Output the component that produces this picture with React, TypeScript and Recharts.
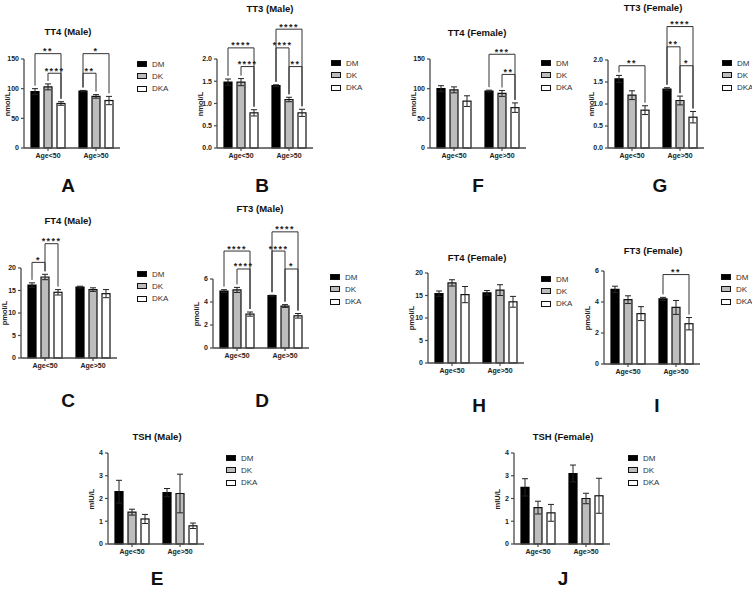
import React from "react";
import { BarChart, Bar, XAxis, YAxis, ErrorBar } from "recharts";

const FONT = '"Liberation Sans", Arial, sans-serif';
const GROUPS = ["Age<50", "Age>50"];
const SERIES = ["DM", "DK", "DKA"];
const FILLS = ["#000000", "#bdbdbd", "#ffffff"];

// means / SEM per age group, order DM, DK, DKA
const tt4MaleMean = [[95, 103, 75], [96, 87, 80]];
const tt4MaleSem = [[5, 5, 3], [1, 3, 7]];
const tt3MaleMean = [[1.48, 1.48, 0.79], [1.4, 1.09, 0.79]];
const tt3MaleSem = [[0.07, 0.08, 0.07], [0.02, 0.05, 0.08]];
const tt4FemaleMean = [[100, 98, 79], [96, 92, 68]];
const tt4FemaleSem = [[5, 5, 9], [1.5, 5, 8]];
const tt3FemaleMean = [[1.57, 1.2, 0.86], [1.34, 1.08, 0.7]];
const tt3FemaleSem = [[0.08, 0.1, 0.1], [0.03, 0.1, 0.13]];
const ft4MaleMean = [[16.2, 18.0, 14.6], [15.75, 15.2, 14.3]];
const ft4MaleSem = [[0.5, 0.6, 0.6], [0.2, 0.4, 0.9]];
const ft3MaleMean = [[4.95, 5.05, 2.95], [4.55, 3.65, 2.8]];
const ft3MaleSem = [[0.12, 0.22, 0.18], [0.04, 0.12, 0.2]];
const ft4FemaleMean = [[15.4, 17.8, 15.2], [15.6, 16.2, 13.6]];
const ft4FemaleSem = [[0.6, 0.7, 1.8], [0.5, 1.2, 1.2]];
const ft3FemaleMean = [[4.82, 4.15, 3.25], [4.2, 3.65, 2.6]];
const ft3FemaleSem = [[0.2, 0.25, 0.45], [0.1, 0.45, 0.4]];
const tshMaleMean = [[2.3, 1.4, 1.1], [2.26, 2.22, 0.8]];
const tshMaleSem = [[0.5, 0.13, 0.2], [0.18, 0.85, 0.12]];
const tshFemaleMean = [[2.49, 1.6, 1.37], [3.1, 2.0, 2.12]];
const tshFemaleSem = [[0.38, 0.28, 0.37], [0.37, 0.23, 0.77]];

// significance brackets: [group, from, to, level, stars]
const tt4MaleSig = [[0, 0, 2, 159, "**"], [0, 1, 2, 126, "****"], [1, 0, 2, 159, "*"], [1, 0, 1, 126, "**"]];
const tt3MaleSig = [[0, 0, 2, 2.25, "****"], [0, 1, 2, 1.83, "****"], [1, 0, 2, 2.67, "****"], [1, 0, 1, 2.25, "****"], [1, 1, 2, 1.83, "**"]];
const tt4FemaleSig = [[1, 0, 2, 158, "***"], [1, 1, 2, 124, "**"]];
const tt3FemaleSig = [[0, 0, 2, 1.87, "**"], [1, 0, 2, 2.76, "****"], [1, 0, 1, 2.3, "**"], [1, 1, 2, 1.87, "*"]];
const ft4MaleSig = [[0, 0, 1, 21.25, "*"], [0, 1, 2, 25.4, "****"]];
const ft3MaleSig = [[0, 0, 2, 8.43, "****"], [0, 1, 2, 6.87, "****"], [1, 0, 2, 10.1, "****"], [1, 0, 1, 8.43, "****"], [1, 1, 2, 6.87, "*"]];
const ft3FemaleSig = [[1, 0, 2, 5.77, "**"]];

const tickT4 = [0, 50, 100, 150];
const tickT3 = [0, 0.5, 1, 1.5, 2];
const tickFT4 = [0, 5, 10, 15, 20];
const tickFT3 = [0, 2, 4, 6];
const tickTSH = [0, 1, 2, 3, 4];

const BAR = 8;
const GAP = 5;
const PLOT_W = 96;
const AXIS = "#4a4a4a";

const PANELS: any[] = [
  { letter: "A", title: "TT4 (Male)", unit: "nmol/L", mean: tt4MaleMean, sem: tt4MaleSem, sig: tt4MaleSig, ticks: tickT4,
    left: 24, top: 59, h: 89, tx: 68, ty: 32, lx: 137, ly: 64, ax: 68, ay: 185 },
  { letter: "B", title: "TT3 (Male)", unit: "nmol/L", mean: tt3MaleMean, sem: tt3MaleSem, sig: tt3MaleSig, ticks: tickT3,
    left: 217, top: 59, h: 89, tx: 270, ty: 9, lx: 331, ly: 63, ax: 262, ay: 185 },
  { letter: "F", title: "TT4 (Female)", unit: "nmol/L", mean: tt4FemaleMean, sem: tt4FemaleSem, sig: tt4FemaleSig, ticks: tickT4,
    left: 430, top: 59, h: 89, tx: 477, ty: 33, lx: 541, ly: 63, ax: 478, ay: 185 },
  { letter: "G", title: "TT3 (Female)", unit: "nmol/L", mean: tt3FemaleMean, sem: tt3FemaleSem, sig: tt3FemaleSig, ticks: tickT3,
    left: 608, top: 60, h: 88, tx: 653, ty: 8, lx: 722, ly: 63, ax: 660, ay: 185 },
  { letter: "C", title: "FT4 (Male)", unit: "pmol/L", mean: ft4MaleMean, sem: ft4MaleSem, sig: ft4MaleSig, ticks: tickFT4,
    left: 21, top: 268, h: 90, tx: 68, ty: 221, lx: 137, ly: 274, ax: 68, ay: 400 },
  { letter: "D", title: "FT3 (Male)", unit: "pmol/L", mean: ft3MaleMean, sem: ft3MaleSem, sig: ft3MaleSig, ticks: tickFT3,
    left: 213, top: 279, h: 69, tx: 260, ty: 209, lx: 330, ly: 277, ax: 262, ay: 400 },
  { letter: "H", title: "FT4 (Female)", unit: "pmol/L", mean: ft4FemaleMean, sem: ft4FemaleSem, sig: [], ticks: tickFT4,
    left: 428, top: 273, h: 90, tx: 477, ty: 258, lx: 541, ly: 279, ax: 479, ay: 405 },
  { letter: "I", title: "FT3 (Female)", unit: "pmol/L", mean: ft3FemaleMean, sem: ft3FemaleSem, sig: ft3FemaleSig, ticks: tickFT3,
    left: 604, top: 271, h: 93, tx: 653, ty: 251, lx: 721, ly: 277, ax: 657, ay: 405 },
  { letter: "E", title: "TSH (Male)", unit: "mIU/L", mean: tshMaleMean, sem: tshMaleSem, sig: [], ticks: tickTSH,
    left: 108, top: 453, h: 91, tx: 157, ty: 437, lx: 226, ly: 458, ax: 157, ay: 578 },
  { letter: "J", title: "TSH (Female)", unit: "mIU/L", mean: tshFemaleMean, sem: tshFemaleSem, sig: [], ticks: tickTSH,
    left: 514, top: 453, h: 91, tx: 563, ty: 437, lx: 628, ly: 458, ax: 563, ay: 578 },
];

// DKA bar also draws the significance brackets of its group
const makeDkaShape = (mean: number[][], sem: number[][], sig: any[]) => (props: any) => {
  const { x, y, width, height, index, payload } = props;
  const base = y + height;
  const ppu = height / payload.DKA;
  const py = (v: number) => base - v * ppu;
  const cx = (k: number) => x + width / 2 - (2 - k) * (width + GAP);
  return (
    <g>
      <rect x={x} y={y} width={width} height={height} fill="#fff" stroke="#111" strokeWidth={1.2} />
      {sig.filter((s) => s[0] === index).map((s, i) => {
        const [, a, b, level, label] = s;
        const L = py(level);
        const ya = py(mean[index][a] + sem[index][a]) - 3;
        const yb = py(mean[index][b] + sem[index][b]) - 3;
        return (
          <g key={i}>
            <path d={`M${cx(a)},${ya}V${L}H${cx(b)}V${yb}`} fill="none" stroke="#333" strokeWidth={1} />
            <text x={(cx(a) + cx(b)) / 2} y={L + 0.5} textAnchor="middle" fontSize={9} fontWeight="bold"
              letterSpacing={1.4} fill="#222" fontFamily={FONT}>{label}</text>
          </g>
        );
      })}
    </g>
  );
};

const Centered = ({ x, y, size, bold, children }: any) => (
  <div style={{ position: "absolute", left: x, top: y, transform: "translate(-50%, -50%)", whiteSpace: "nowrap",
    fontSize: size, fontWeight: bold ? "bold" : "normal", lineHeight: 1, color: "#111", fontFamily: FONT }}>
    {children}
  </div>
);

const Panel = ({ p }: any) => {
  const data = GROUPS.map((g, i) => ({
    group: g,
    DM: p.mean[i][0], DK: p.mean[i][1], DKA: p.mean[i][2],
    DMErr: p.sem[i][0], DKErr: p.sem[i][1], DKAErr: p.sem[i][2],
  }));
  const max = p.ticks[p.ticks.length - 1];
  const fmt = (v: number) => (max <= 2 ? v.toFixed(1) : String(v));
  const tick = { fontSize: 7, fontWeight: "bold", fill: "#222", fontFamily: FONT };
  return (
    <>
      <div style={{ position: "absolute", left: p.left - 40, top: p.top - 60 }}>
        <BarChart width={40 + PLOT_W + 4} height={60 + p.h + 20} data={data} barSize={BAR} barGap={GAP}
          margin={{ top: 60, right: 4, left: 0, bottom: 0 }}>
          <XAxis dataKey="group" height={20} interval={0} tickSize={3} tick={tick}
            axisLine={{ stroke: AXIS, strokeWidth: 1.3 }} tickLine={{ stroke: AXIS, strokeWidth: 1.2 }} />
          <YAxis width={40} domain={[0, max]} ticks={p.ticks} interval={0} tickSize={3} tickFormatter={fmt} tick={tick}
            axisLine={{ stroke: AXIS, strokeWidth: 1.3 }} tickLine={{ stroke: AXIS, strokeWidth: 1.2 }} />
          <Bar dataKey="DM" fill={FILLS[0]} stroke="#000" strokeWidth={1.2} isAnimationActive={false}>
            <ErrorBar dataKey="DMErr" width={3} stroke="#222" strokeWidth={1} />
          </Bar>
          <Bar dataKey="DK" fill={FILLS[1]} stroke="#111" strokeWidth={1.2} isAnimationActive={false}>
            <ErrorBar dataKey="DKErr" width={3} stroke="#222" strokeWidth={1} />
          </Bar>
          <Bar dataKey="DKA" fill={FILLS[2]} stroke="#111" strokeWidth={1.2} isAnimationActive={false}
            shape={makeDkaShape(p.mean, p.sem, p.sig)}>
            <ErrorBar dataKey="DKAErr" width={3} stroke="#222" strokeWidth={1} />
          </Bar>
        </BarChart>
      </div>
      <Centered x={p.tx} y={p.ty} size={9.5} bold>{p.title}</Centered>
      <div style={{ position: "absolute", left: p.left - 16, top: p.top + p.h / 2, transform: "translate(-50%, -50%) rotate(-90deg)",
        fontSize: 7.5, fontWeight: "bold", color: "#222", fontFamily: FONT, whiteSpace: "nowrap", lineHeight: 1 }}>{p.unit}</div>
      {SERIES.map((s, i) => (
        <div key={s} style={{ position: "absolute", left: p.lx, top: p.ly + i * 12.3 - 4, height: 8, display: "flex",
          alignItems: "center", fontFamily: FONT, fontSize: 8, color: "#333", whiteSpace: "nowrap" }}>
          <span style={{ width: 10, height: 6, background: FILLS[i], border: "1px solid #111", boxSizing: "border-box",
            display: "inline-block", marginRight: 5 }} />
          {s}
        </div>
      ))}
      <Centered x={p.ax} y={p.ay} size={19} bold>{p.letter}</Centered>
    </>
  );
};

export default function App() {
  return (
    <div style={{ position: "absolute", left: 0, top: 0, width: 752, height: 593, background: "#fff", overflow: "hidden" }}>
      {PANELS.map((p) => <Panel key={p.letter} p={p} />)}
    </div>
  );
}
